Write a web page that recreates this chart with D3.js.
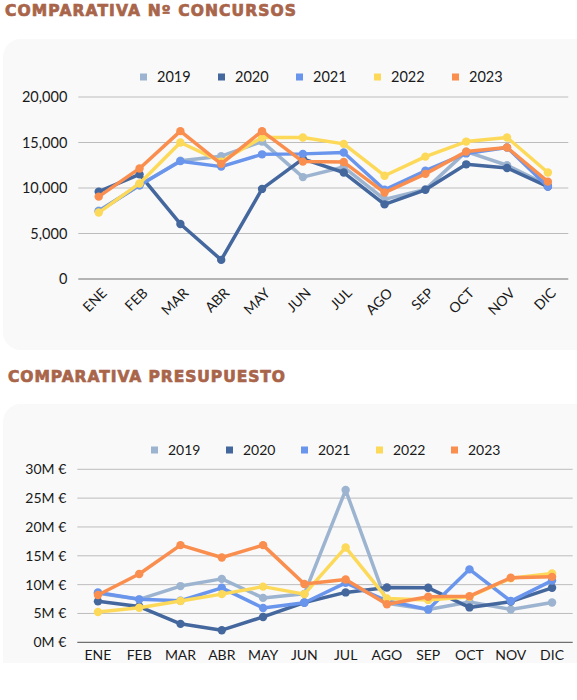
<!DOCTYPE html>
<html>
<head>
<meta charset="utf-8">
<script src="https://cdn.jsdelivr.net/npm/d3@7"></script>
<style>
  body { margin: 0; background: #fff; }
  svg { display: block; }
  .lbl { font-family: Lato, "Open Sans", sans-serif; fill: #1a1a1a; }
  .title { font-family: "DejaVu Sans", sans-serif; font-weight: bold; fill: #a9654a; stroke: #a9654a; stroke-width: 0.7; }
</style>
</head>
<body>
<div id="vis"></div>
<script>
const width = 577;
const height = 700;

// Data
const months = ["ENE", "FEB", "MAR", "ABR", "MAY", "JUN", "JUL", "AGO", "SEP", "OCT", "NOV", "DIC"];
const years = ["2019", "2020", "2021", "2022", "2023"];
const colors = ["#9db4d1", "#44679e", "#6a95ec", "#fdd95a", "#f98e4e"];

const concursos2019 = [7500, 10300, 13000, 13500, 15100, 11200, 12300, 8750, 9850, 14000, 12500, 10300];
const concursos2020 = [9600, 11500, 6050, 2100, 9900, 13200, 11700, 8200, 9800, 12600, 12200, 10150];
const concursos2021 = [7450, 10300, 12950, 12350, 13700, 13750, 13900, 9800, 11900, 13800, 14450, 10150];
const concursos2022 = [7300, 10500, 15000, 12900, 15550, 15550, 14850, 11350, 13450, 15100, 15550, 11700];
const concursos2023 = [9050, 12150, 16250, 12650, 16250, 12900, 12850, 9500, 11550, 14000, 14450, 10700];
const concursosTicks = [0, 5000, 10000, 15000, 20000];

// presupuesto in millions of euros
const presupuesto2019 = [8.5, 7.45, 9.75, 11.0, 7.7, 8.4, 26.4, 6.75, 5.7, 7.0, 5.7, 6.9];
const presupuesto2020 = [7.1, 6.2, 3.2, 2.1, 4.4, 6.9, 8.65, 9.5, 9.45, 6.05, 7.05, 9.45];
const presupuesto2021 = [8.65, 7.45, 7.2, 9.45, 5.95, 6.85, 10.3, 7.2, 5.7, 12.65, 7.15, 10.7];
const presupuesto2022 = [5.25, 6.0, 7.15, 8.35, 9.65, 8.35, 16.45, 7.6, 7.35, 7.9, 11.1, 11.95];
const presupuesto2023 = [8.2, 11.85, 16.85, 14.7, 16.85, 10.1, 10.9, 6.6, 7.9, 8.0, 11.2, 11.35];
const presupuestoTicks = [0, 5, 10, 15, 20, 25, 30];

const concursos = [concursos2019, concursos2020, concursos2021, concursos2022, concursos2023];
const presupuesto = [presupuesto2019, presupuesto2020, presupuesto2021, presupuesto2022, presupuesto2023];

const svg = d3.select("#vis").append("svg")
  .attr("width", width)
  .attr("height", height);

// Cards
svg.append("rect")
  .attr("x", 3).attr("y", 39)
  .attr("width", 620).attr("height", 311)
  .attr("rx", 18)
  .attr("fill", "#f9f9f9");

svg.append("rect")
  .attr("x", 3).attr("y", 404)
  .attr("width", 620).attr("height", 259)
  .attr("rx", 18)
  .attr("fill", "#f9f9f9");
// bottom card is cut flat at the bottom
svg.append("rect")
  .attr("x", 3).attr("y", 630)
  .attr("width", 620).attr("height", 33)
  .attr("fill", "#f9f9f9");

// Titles
svg.append("text")
  .attr("class", "title")
  .attr("x", 5).attr("y", 15.5)
  .attr("font-size", 15.5)
  .attr("textLength", 291)
  .attr("lengthAdjust", "spacing")
  .text("COMPARATIVA Nº CONCURSOS");

svg.append("text")
  .attr("class", "title")
  .attr("x", 8).attr("y", 381.5)
  .attr("font-size", 15.5)
  .attr("textLength", 277)
  .attr("lengthAdjust", "spacing")
  .text("COMPARATIVA PRESUPUESTO");

function drawLegend(xStart, step, cy, fontSize) {
  const g = svg.append("g");
  years.forEach((yr, i) => {
    const x = xStart + i * step;
    g.append("rect")
      .attr("x", x).attr("y", cy - 3.5)
      .attr("width", 7).attr("height", 7)
      .attr("fill", colors[i]);
    g.append("text")
      .attr("class", "lbl")
      .attr("x", x + 17).attr("y", cy + 5)
      .attr("font-size", fontSize)
      .text(yr);
  });
}

function drawChart(opts) {
  const x = d3.scaleBand()
    .domain(months)
    .range([opts.left, opts.right]);

  const y = d3.scaleLinear()
    .domain([0, opts.max])
    .range([opts.bottom, opts.top]);

  const g = svg.append("g");

  // Gridlines
  g.selectAll(".grid")
    .data(opts.ticks.filter(d => d !== 0))
    .enter().append("line")
    .attr("x1", opts.left).attr("x2", opts.right)
    .attr("y1", d => y(d)).attr("y2", d => y(d))
    .attr("stroke", "#bdbdbd")
    .attr("stroke-width", 1);

  g.append("line")
    .attr("x1", opts.left).attr("x2", opts.right)
    .attr("y1", y(0)).attr("y2", y(0))
    .attr("stroke", "#707070")
    .attr("stroke-width", 1.2);

  // Y labels
  g.selectAll(".ylab")
    .data(opts.ticks)
    .enter().append("text")
    .attr("class", "lbl")
    .attr("x", opts.left - 11)
    .attr("y", d => y(d) + 5)
    .attr("text-anchor", "end")
    .attr("font-size", opts.yFont)
    .text(opts.yFormat);

  // X labels
  const xl = g.selectAll(".xlab")
    .data(months)
    .enter().append("text")
    .attr("class", "lbl")
    .attr("font-size", opts.xFont)
    .text(d => d);

  if (opts.rotate) {
    xl.attr("text-anchor", "end")
      .attr("transform", d => `translate(${x(d) + x.bandwidth() / 2 + 9},${y(0) + 15}) rotate(-45)`);
  } else {
    xl.attr("text-anchor", "middle")
      .attr("x", d => x(d) + x.bandwidth() / 2)
      .attr("y", y(0) + 18);
  }

  const line = d3.line()
    .x((d, i) => x(months[i]) + x.bandwidth() / 2)
    .y(d => y(d));

  opts.series.forEach((vals, s) => {
    g.append("path")
      .datum(vals)
      .attr("d", line)
      .attr("fill", "none")
      .attr("stroke", colors[s])
      .attr("stroke-width", 3.5)
      .attr("stroke-linejoin", "round");

    g.selectAll(null)
      .data(vals)
      .enter().append("circle")
      .attr("cx", (d, i) => x(months[i]) + x.bandwidth() / 2)
      .attr("cy", d => y(d))
      .attr("r", 4.2)
      .attr("fill", colors[s]);
  });
}

drawLegend(140, 78, 77, 14.5);
drawChart({
  left: 78.3, right: 568.3, top: 97, bottom: 279,
  max: 20000, ticks: concursosTicks,
  yFormat: d3.format(","), yFont: 14.5, xFont: 14,
  rotate: true, series: concursos
});

drawLegend(151, 75, 450, 14);
drawChart({
  left: 77.3, right: 572.7, top: 469.3, bottom: 642.3,
  max: 30, ticks: presupuestoTicks,
  yFormat: d => `${d}M €`, yFont: 14, xFont: 14,
  rotate: false, series: presupuesto
});
</script>
</body>
</html>
